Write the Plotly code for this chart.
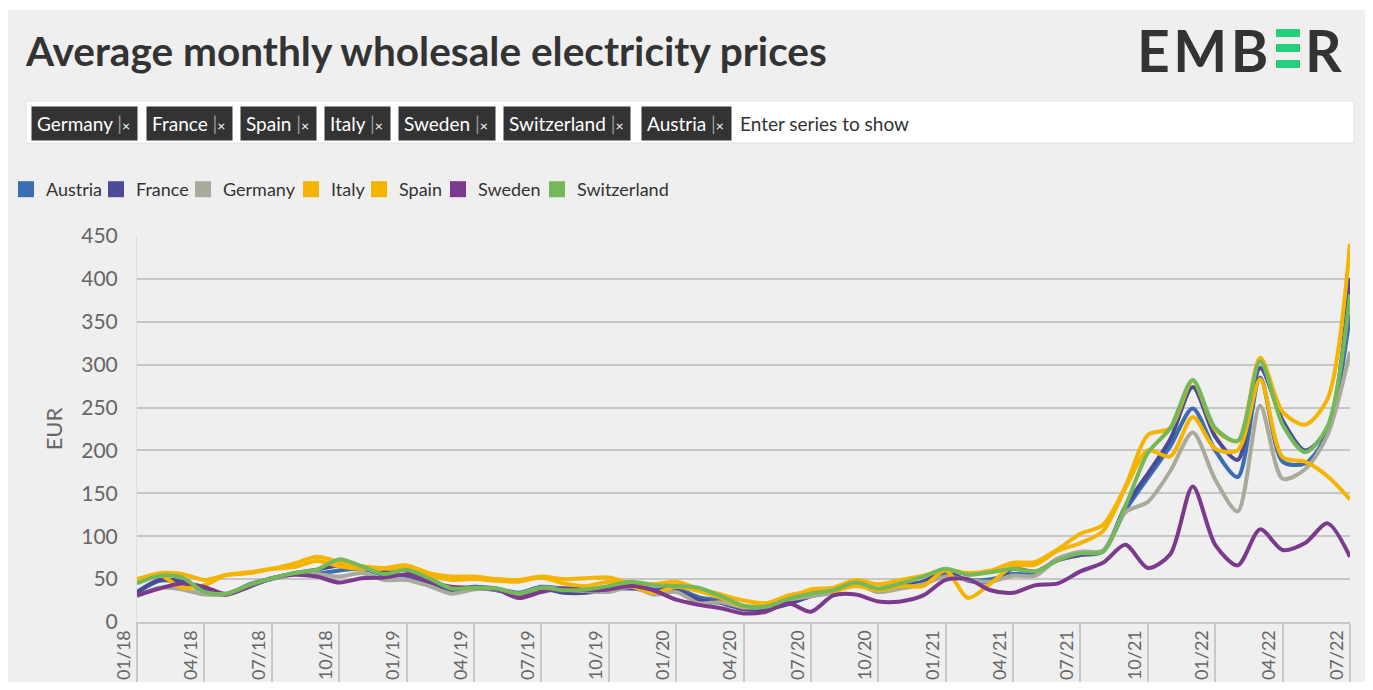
import plotly.graph_objects as go

# ---------------- data (EUR/MWh, monthly, 01/18 .. 07/22) ----------------
months = [f"{m:02d}/{y:02d}" for y in range(18, 23) for m in range(1, 13)][:55]
tick_labels = months[::3]

austria = [34, 48, 46, 37, 33, 43, 50, 56, 56, 60, 62, 55,
           54, 45, 36, 41, 39, 34, 41, 39, 38, 39, 44, 38,
           39, 29, 25, 18, 19, 28, 33, 37, 45, 36, 41, 47,
           56, 49, 50, 56, 56, 74, 80, 83, 130, 168, 205, 249,
           200, 169, 285, 187, 185, 220, 358]
france = [35, 49, 47, 36, 32, 44, 51, 57, 61, 66, 63, 60,
          60, 45, 37, 40, 37, 32, 39, 34, 34, 38, 39, 36,
          37, 26, 22, 15, 15, 21, 30, 35, 45, 35, 41, 47,
          59, 48, 47, 62, 59, 72, 78, 82, 135, 173, 213, 274,
          216, 189, 296, 235, 200, 225, 401]
germany = [30, 40, 38, 32, 33, 43, 50, 56, 56, 53, 57, 49,
           49, 42, 33, 38, 38, 33, 40, 38, 36, 35, 41, 32,
           35, 22, 23, 17, 18, 26, 30, 35, 44, 35, 39, 44,
           53, 49, 47, 54, 54, 74, 82, 83, 128, 140, 176, 221,
           166, 129, 252, 167, 178, 218, 315]
italy = [49, 57, 56, 49, 55, 57, 62, 68, 76, 70, 65, 63,
         66, 57, 53, 53, 50, 49, 53, 50, 51, 52, 45, 44,
         47, 39, 32, 25, 22, 28, 38, 40, 49, 44, 49, 54,
         61, 57, 60, 69, 70, 85, 103, 113, 158, 218, 226, 281,
         224, 211, 308, 245, 230, 260, 441]
spain = [50, 55, 40, 43, 55, 58, 62, 64, 71, 65, 62, 62,
         62, 54, 49, 50, 48, 47, 52, 45, 42, 47, 42, 34,
         41, 36, 28, 18, 21, 31, 35, 36, 42, 37, 42, 42,
         60, 28, 45, 65, 67, 83, 92, 106, 156, 200, 193, 239,
         202, 200, 283, 192, 187, 170, 143]
sweden = [31, 39, 45, 41, 32, 41, 51, 55, 53, 46, 51, 52,
          55, 47, 41, 40, 38, 28, 35, 39, 37, 38, 42, 37,
          26, 20, 16, 10, 12, 22, 12, 31, 32, 24, 24, 31,
          49, 50, 37, 34, 43, 45, 59, 69, 90, 63, 79, 158,
          90, 66, 108, 84, 92, 115, 76]
switzerland = [45, 54, 52, 35, 33, 43, 51, 57, 61, 73, 65, 56,
               61, 51, 39, 40, 39, 33, 40, 37, 38, 42, 47, 43,
               42, 40, 30, 19, 18, 27, 33, 37, 46, 39, 45, 53,
               62, 55, 58, 62, 59, 72, 80, 82, 135, 197, 226, 282,
               226, 211, 304, 230, 198, 228, 382]

series_names = ["Austria", "France", "Germany", "Italy", "Spain", "Sweden", "Switzerland"]
series_values = [austria, france, germany, italy, spain, sweden, switzerland]
series_colors = ["#3a6db2", "#4a4a98", "#a9aa9c", "#f4b400", "#f4b400", "#7b3a8c", "#74b85a"]
legend_text_lefts = [46, 136, 223, 331, 399, 478, 577]

tags = ["Germany", "France", "Spain", "Italy", "Sweden", "Switzerland", "Austria"]
tag_lefts = [31, 146, 240, 324, 398, 503, 641]

# ---------------- layout geometry (page pixels) ----------------
BODY = 8                      # default page body margin around the figure
W, H = 1373 - 2 * BODY, 690 - 2 * BODY
L, R, T, B = 137, 1350, 236, 622
FONT = "Lato"


def fx(p):
    return (p - L) / (R - L)


def fy(p):
    return (B - p) / (B - T)


fig = go.Figure()

for name, vals, col in zip(series_names, series_values, series_colors):
    fig.add_trace(go.Scatter(
        x=months, y=vals, name=name, mode="lines",
        line=dict(color=col, width=4, shape="spline", smoothing=0.8),
        legendgroup=name, showlegend=False, hoverinfo="x+y+name"))

legend_layouts = {}
for i, (name, col, tl) in enumerate(zip(series_names, series_colors, legend_text_lefts)):
    lg = "legend" if i == 0 else f"legend{i + 1}"
    fig.add_trace(go.Scatter(
        x=[None], y=[None], name=name, mode="markers",
        marker=dict(symbol="square", size=16, color=col),
        legendgroup=name, showlegend=True, legend=lg))
    legend_layouts[lg] = dict(
        orientation="h", x=fx(tl - 40), y=fy(171), xanchor="left", yanchor="top",
        font=dict(family=FONT, size=18, color="#333333"),
        bgcolor="rgba(0,0,0,0)", itemsizing="trace", borderwidth=0)

shapes = [
    dict(type="rect", xref="paper", yref="paper", x0=fx(4), x1=fx(1370), y0=fy(700), y1=fy(10),
         fillcolor="#efefef", line=dict(width=0), layer="below"),
    dict(type="rect", xref="paper", yref="paper", x0=fx(26), x1=fx(1354), y0=fy(143), y1=fy(101),
         fillcolor="#ffffff", line=dict(width=1, color="#e2e2e2"), layer="below"),
]
for y0, y1 in [(29, 37), (44, 52), (60, 68)]:
    shapes.append(dict(type="rect", xref="paper", yref="paper", x0=fx(1276), x1=fx(1300),
                       y0=fy(y1), y1=fy(y0), fillcolor="#25cf7b", line=dict(width=0)))

annotations = [
    dict(text="<b>Average monthly wholesale electricity prices</b>", xref="paper", yref="paper",
         x=fx(23), y=fy(50), xanchor="left", yanchor="middle", showarrow=False,
         font=dict(family=FONT, size=40.6, color="#333333")),
    dict(text="<b>E\u200aM\u200aB</b>", xref="paper", yref="paper", x=fx(1270), y=fy(50),
         xanchor="right", yanchor="middle", showarrow=False,
         font=dict(family=FONT, size=57, color="#333333")),
    dict(text="<b>R</b>", xref="paper", yref="paper", x=fx(1303), y=fy(50),
         xanchor="left", yanchor="middle", showarrow=False,
         font=dict(family=FONT, size=57, color="#333333")),
    dict(text="Enter series to show", xref="paper", yref="paper", x=fx(738), y=fy(123),
         xanchor="left", yanchor="middle", showarrow=False,
         font=dict(family=FONT, size=19, color="#333333")),
]
for t, xl in zip(tags, tag_lefts):
    annotations.append(dict(
        text=f"{t} <span style='color:#999999'>|</span><span style='font-size:14px'>×\u2009</span>",
        xref="paper", yref="paper", x=fx(xl), y=fy(123.5), xanchor="left", yanchor="middle",
        showarrow=False, bgcolor="#333333", borderpad=5,
        font=dict(family=FONT, size=19, color="#ffffff")))

fig.update_layout(
    width=W, height=H,
    margin=dict(l=L - BODY, r=W - (R - BODY), t=T - BODY, b=H - (B - BODY), pad=0,
                autoexpand=False),
    paper_bgcolor="#ffffff", plot_bgcolor="rgba(0,0,0,0)",
    font=dict(family=FONT, color="#666666"),
    showlegend=True,
    shapes=shapes,
    annotations=annotations,
    xaxis=dict(type="category", categoryorder="array", categoryarray=months,
               range=[0, 54], tickmode="array", tickvals=tick_labels, ticktext=tick_labels,
               tickangle=-90, ticks="outside", ticklen=60, tickwidth=2, tickcolor="#c8c8c8",
               ticklabelstandoff=-61, ticklabelshift=-13, automargin=False,
               tickfont=dict(family=FONT, size=18, color="#666666"),
               showgrid=False, showline=True, linecolor="#c8c8c8", linewidth=2,
               zeroline=False, fixedrange=True),
    yaxis=dict(range=[0, 450], tickvals=[0, 50, 100, 150, 200, 250, 300, 350, 400, 450],
               tickfont=dict(family=FONT, size=21, color="#666666"),
               showgrid=True, gridcolor="#c6c6c6", gridwidth=2,
               showline=True, linecolor="#dedede", linewidth=1,
               zeroline=False, ticks="", ticklabelstandoff=14, automargin=False,
               title=dict(text="EUR", standoff=12, font=dict(family=FONT, size=22, color="#666666")),
               fixedrange=True),
    **legend_layouts,
)

fig.write_html("out.html")
